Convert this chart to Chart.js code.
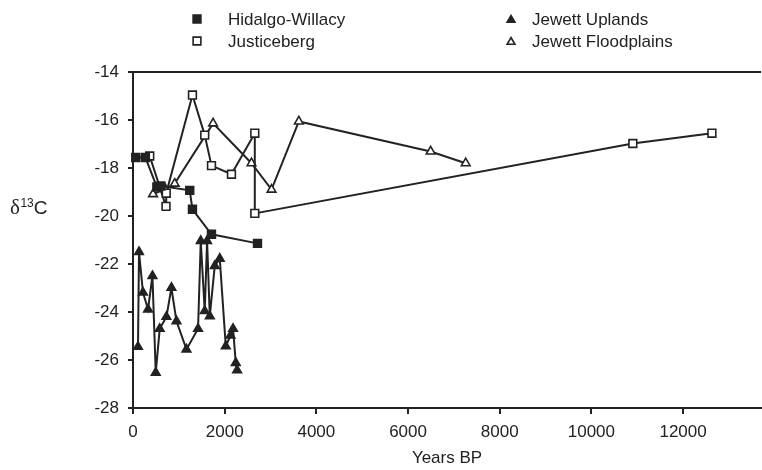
<!DOCTYPE html>
<html>
<head>
<meta charset="utf-8">
<title>d13C vs years BP</title>
<script src="https://cdn.jsdelivr.net/npm/chart.js@4.4.1/dist/chart.umd.min.js"></script>
<style>
  html, body { margin: 0; padding: 0; background: #fff; }
  canvas { display: block; }
</style>
</head>
<body>
<canvas id="isotopeChart" width="762" height="470"></canvas>
<script>
// Series: radiocarbon age (years BP) and delta 13C for each site
const hidalgoYears = [60, 270, 520, 607, 1238, 1297, 1712, 2716];
const hidalgoD13C = [-17.56, -17.56, -18.79, -18.75, -18.93, -19.72, -20.76, -21.14];

const justicebergYears = [365, 720, 725, 1297, 1565, 1712, 2148, 2657, 2657, 10904, 12629];
const justicebergD13C = [-17.5, -19.6, -19.05, -14.96, -16.63, -17.9, -18.26, -16.55, -19.89, -16.98, -16.55];

const uplandsYears = [109, 131, 218, 328, 424, 496, 583, 729, 838, 948, 1166, 1419, 1478, 1565, 1616, 1675, 1784, 1893, 2024, 2127, 2183, 2242, 2271];
const uplandsD13C = [-25.45, -21.5, -23.19, -23.89, -22.5, -26.53, -24.7, -24.2, -22.99, -24.38, -25.56, -24.7, -21.04, -23.96, -21.04, -24.17, -22.08, -21.78, -25.42, -24.98, -24.7, -26.12, -26.43];

const floodYears = [437, 707, 910, 1747, 2585, 3022, 3618, 6493, 7258];
const floodD13C = [-19.09, -18.88, -18.65, -16.14, -17.8, -18.9, -16.06, -17.31, -17.8];

const seriesNames = ['Hidalgo-Willacy', 'Justiceberg', 'Jewett Uplands', 'Jewett Floodplains'];

// Axis ticks
const yearTicks = [0, 2000, 4000, 6000, 8000, 10000, 12000];
const d13cTicks = [-28, -26, -24, -22, -20, -18, -16, -14];

const ink = '#222';
const fontFamily = "'Liberation Sans', Arial, sans-serif";

function toPoints(xs, ys) {
    return xs.map((x, i) => ({ x: x, y: ys[i] }));
}

function makeDataset(label, xs, ys, style, filled) {
    return {
        label: label,
        data: toPoints(xs, ys),
        showLine: true,
        borderColor: ink,
        borderWidth: 2,
        pointStyle: style,
        pointRadius: style === 'rect' ? 5.5 : 5,
        pointBorderWidth: 1.6,
        pointBorderColor: ink,
        pointBackgroundColor: filled ? ink : '#fff',
        clip: false
    };
}

// Two-column legend above the plot
const legendPlugin = {
    id: 'topLegend',
    afterDraw(chart) {
        const ctx = chart.ctx;
        const items = [
            { x: 197, y: 19, tx: 228, ds: 0 },
            { x: 197, y: 41, tx: 228, ds: 1 },
            { x: 511, y: 19, tx: 532, ds: 2 },
            { x: 511, y: 41, tx: 532, ds: 3 }
        ];
        ctx.save();
        items.forEach(it => {
            const ds = chart.data.datasets[it.ds];
            const isRect = ds.pointStyle === 'rect';
            ctx.fillStyle = ds.pointBackgroundColor;
            ctx.strokeStyle = ink;
            ctx.lineWidth = 1.6;
            Chart.helpers.drawPoint(ctx, {
                pointStyle: ds.pointStyle,
                radius: isRect ? 5.5 : 4.5,
                rotation: 0,
                borderWidth: 1.6
            }, it.x, isRect ? it.y : it.y + 1);
            ctx.fillStyle = ink;
            ctx.font = '17px ' + fontFamily;
            ctx.textBaseline = 'middle';
            ctx.textAlign = 'left';
            ctx.fillText(seriesNames[it.ds], it.tx, it.y + 1);
        });
        ctx.restore();
    }
};

// Horizontal y-axis title with superscript mass number
const yTitlePlugin = {
    id: 'yTitle',
    afterDraw(chart) {
        const ctx = chart.ctx;
        ctx.save();
        ctx.fillStyle = ink;
        ctx.textBaseline = 'alphabetic';
        ctx.textAlign = 'left';
        let x = 10;
        const base = 214;
        ctx.font = "21px 'Liberation Serif', 'DejaVu Serif', serif";
        ctx.fillText('δ', x, base);
        x += ctx.measureText('δ').width + 0.5;
        ctx.font = '12px ' + fontFamily;
        ctx.fillText('13', x, base - 7);
        x += ctx.measureText('13').width;
        ctx.font = '19px ' + fontFamily;
        ctx.fillText('C', x, base);
        ctx.restore();
    }
};

const ctx = document.getElementById('isotopeChart');

new Chart(ctx, {
    type: 'scatter',
    data: {
        datasets: [
            makeDataset(seriesNames[0], hidalgoYears, hidalgoD13C, 'rect', true),
            makeDataset(seriesNames[1], justicebergYears, justicebergD13C, 'rect', false),
            makeDataset(seriesNames[2], uplandsYears, uplandsD13C, 'triangle', true),
            makeDataset(seriesNames[3], floodYears, floodD13C, 'triangle', false)
        ]
    },
    options: {
        responsive: false,
        animation: false,
        layout: {
            autoPadding: false,
            padding: { top: 72, left: 0, right: 1, bottom: 0 }
        },
        plugins: {
            legend: { display: false },
            tooltip: { enabled: false }
        },
        scales: {
            x: {
                type: 'linear',
                min: 0,
                max: 13700,
                // ticks every 2000 years; the axis runs a bit past the last one
                afterBuildTicks(scale) {
                    scale.ticks = yearTicks.map(v => ({ value: v }));
                },
                afterFit(scale) {
                    scale.height = 62;
                    scale.paddingLeft = 0;
                    scale.paddingRight = 0;
                },
                ticks: {
                    autoSkip: false,
                    color: ink,
                    padding: 8,
                    maxRotation: 0,
                    callback: v => String(v),
                    font: { family: fontFamily, size: 17 }
                },
                grid: {
                    display: true,
                    drawOnChartArea: false,
                    tickLength: 6,
                    tickColor: ink,
                    lineWidth: 2
                },
                border: { color: ink, width: 2 },
                title: {
                    display: true,
                    text: 'Years BP',
                    color: ink,
                    padding: { top: 0, bottom: 1 },
                    font: { family: fontFamily, size: 17 }
                }
            },
            y: {
                type: 'linear',
                min: -28,
                max: -14,
                afterBuildTicks(scale) {
                    scale.ticks = d13cTicks.map(v => ({ value: v }));
                },
                afterFit(scale) {
                    scale.width = 133;
                },
                ticks: {
                    color: ink,
                    padding: 9,
                    callback: v => String(v),
                    font: { family: fontFamily, size: 17 }
                },
                grid: {
                    display: true,
                    drawOnChartArea: true,
                    // only the top line (-14) spans the plot
                    color: c => (c.tick && c.tick.value === -14) ? ink : 'rgba(0,0,0,0)',
                    tickColor: ink,
                    tickLength: 5,
                    lineWidth: 2
                },
                border: { color: ink, width: 2 }
            }
        }
    },
    plugins: [legendPlugin, yTitlePlugin]
});
</script>
</body>
</html>
